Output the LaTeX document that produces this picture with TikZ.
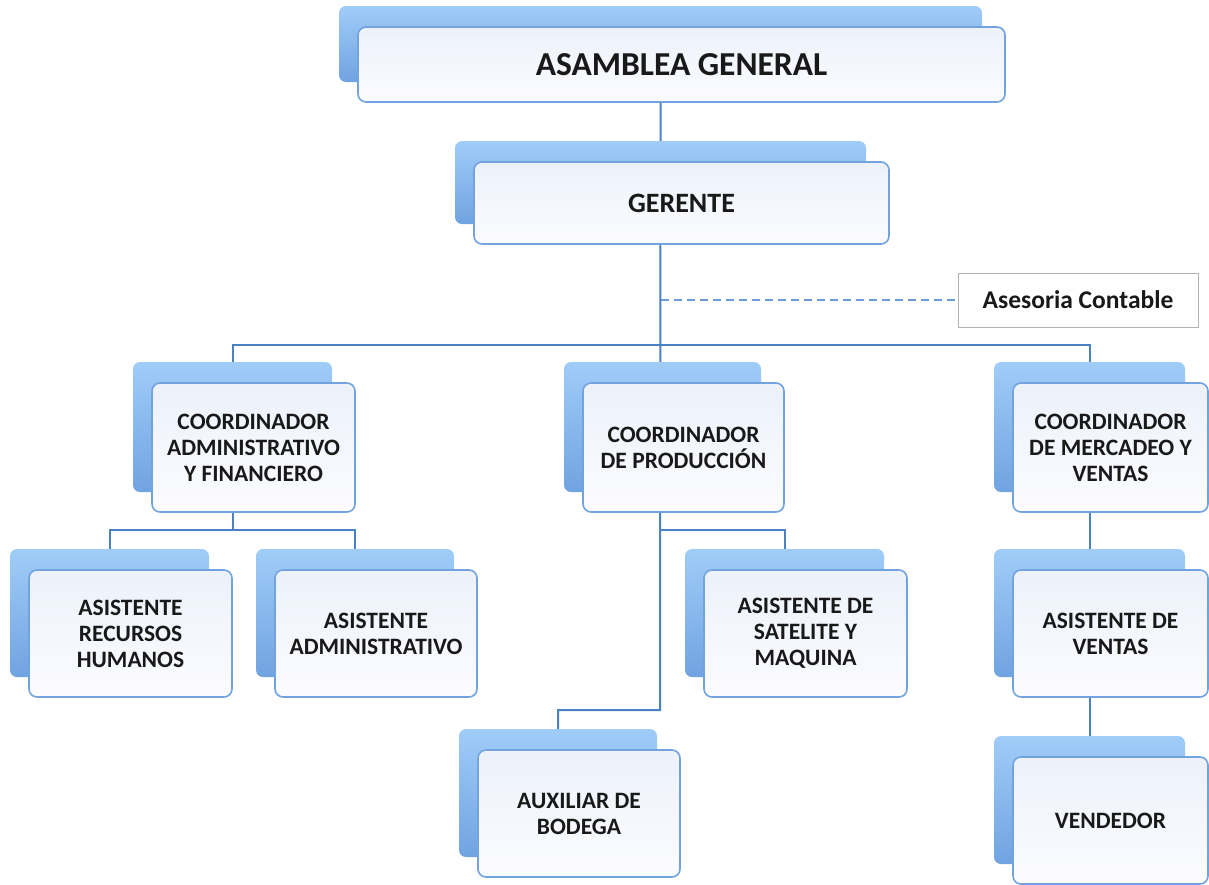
\documentclass[tikz,border=0pt]{standalone}
\usepackage{fontspec}
\setmainfont{Carlito}
\usetikzlibrary{calc}
\pgfdeclarelayer{bg}\pgfsetlayers{bg,main}
\definecolor{conn}{RGB}{74,128,196}
\definecolor{dashc}{RGB}{110,155,220}
\definecolor{frontline}{RGB}{115,163,222}
\definecolor{fronttop}{RGB}{236,241,250}
\definecolor{frontbot}{RGB}{252,252,255}
\definecolor{backtop}{RGB}{160,204,248}
\definecolor{backbot}{RGB}{112,163,225}
\tikzset{
 backbox/.style={draw=none, rounded corners=7pt, top color=backtop, bottom color=backbot, inner sep=0pt},
 frontbox/.style={draw=frontline, line width=1.6pt, rounded corners=8pt, top color=fronttop, bottom color=frontbot, inner sep=0pt, align=center, font=\bfseries\fontsize{23.5}{26}\selectfont, text=black!90},
 link/.style={draw=conn, line width=2pt},
 dashlink/.style={draw=dashc, line width=1.5pt, dash pattern=on 8pt off 5pt},
}
\newcommand\card[6]{%
 \node[backbox, minimum width={(#4-#2-4)*1pt}, minimum height={(#5-#3+1)*1pt}] (#1B) at ({(#2+#4)/2-21},{(#3+#5)/2-20.5}) {};
 \node[frontbox, minimum width={(#4-#2)*1pt}, minimum height={(#5-#3)*1pt}] (#1) at ({(#2+#4)/2},{(#3+#5)/2}) {#6};
}
\begin{document}
\begin{tikzpicture}[x=1pt,y=-1pt]
\useasboundingbox (0,0) rectangle (1209,884);
\card{asm}{358}{27}{1005}{102}{\fontsize{33.5}{36}\selectfont ASAMBLEA GENERAL}
\card{ger}{474}{162}{889}{244}{\fontsize{28}{30}\selectfont GERENTE}
\card{ca}{152}{383}{355}{512}{COORDINADOR\\ADMINISTRATIVO\\Y FINANCIERO}
\card{cp}{583}{383}{784}{512}{COORDINADOR\\DE PRODUCCIÓN}
\card{cm}{1013}{383}{1208}{512}{COORDINADOR\\DE MERCADEO Y\\VENTAS}
\card{rh}{29}{570}{232}{697}{ASISTENTE\\RECURSOS\\HUMANOS}
\card{ad}{275}{570}{477}{697}{ASISTENTE\\ADMINISTRATIVO}
\card{sa}{704}{570}{907}{697}{ASISTENTE DE\\SATELITE Y\\MAQUINA}
\card{av}{1013}{570}{1208}{697}{ASISTENTE DE\\VENTAS}
\card{ax}{478}{750}{680}{877}{AUXILIAR DE\\BODEGA}
\card{ve}{1013}{757}{1208}{884}{VENDEDOR}
\node[draw=black!30, line width=1pt, fill=white, minimum width=240pt, minimum height=54pt, inner sep=0pt, font=\bfseries\fontsize{25.5}{28}\selectfont, text=black!90] (ases) at (1078,300) {Asesoria Contable};
\coordinate (bus) at (660,345);
\coordinate (j2) at (232,530);
\coordinate (j4) at (660,530);
\coordinate (j3) at (660,710);
\begin{pgfonlayer}{bg}
\draw[link] (asmB.center) -- (gerB.center) -- (j3) -| (axB.north);
\draw[link] (caB.north) |- (bus) -| (cmB.north);
\draw[link] (caB.center) -- (caB.center |- j2);
\draw[link] (rhB.north) |- (j2) -| (adB.north);
\draw[link] (j4) -| (saB.north);
\draw[link] (cmB.center) -- (avB.center) -- (veB.north);
\draw[dashlink] (gerB.center |- ases.west) -- (ases.west);
\end{pgfonlayer}
\end{tikzpicture}
\end{document}
